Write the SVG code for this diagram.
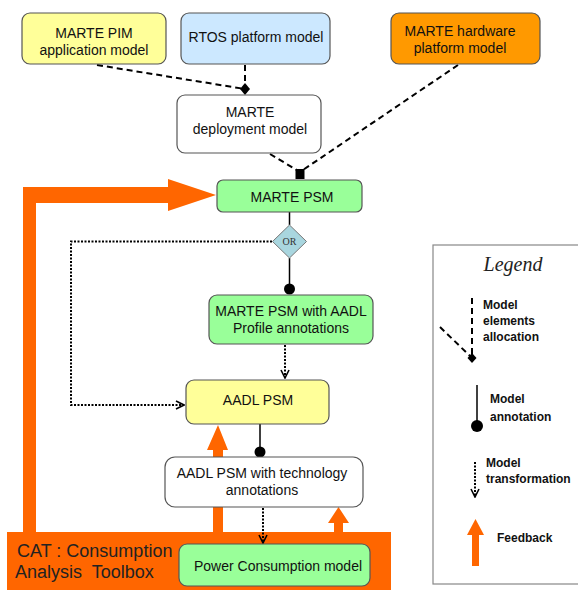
<svg xmlns="http://www.w3.org/2000/svg" width="578" height="590" viewBox="0 0 578 590">
<defs>
<style>
.box{stroke:#555;stroke-width:1.2}
.t{font-family:"Liberation Sans",Arial,sans-serif;font-size:14px;fill:#111;text-anchor:middle}
.lg{font-family:"Liberation Sans",Arial,sans-serif;font-size:12px;font-weight:bold;fill:#111}
.dash{stroke:#000;stroke-width:2;stroke-dasharray:6,4;fill:none}
.dot{stroke:#000;stroke-width:2;stroke-dasharray:2,1.5;fill:none}
.solid{stroke:#000;stroke-width:1.5;fill:none}
.fb{fill:#ff6600}
</style>
<marker id="chev" viewBox="0 0 10 10" refX="9" refY="5" markerWidth="10" markerHeight="10" markerUnits="userSpaceOnUse" orient="auto">
<path d="M1,1 L9,5 L1,9" fill="none" stroke="#000" stroke-width="1.6"/>
</marker>
</defs>
<rect width="578" height="590" fill="#fff"/>

<!-- feedback (orange) shapes -->
<g id="cat">
<rect class="fb" x="7" y="532" width="384" height="58"/>
<text x="17" y="557" style="font-family:'Liberation Sans',Arial,sans-serif;font-size:18px;fill:#222">CAT : Consumption</text>
<text x="15" y="578" style="font-family:'Liberation Sans',Arial,sans-serif;font-size:18px;fill:#222" xml:space="preserve">Analysis  Toolbox</text>
</g>

<g id="connectors">
<!-- big feedback arrow to MARTE PSM -->
<path class="fb" d="M23,533 L23,187 L168,187 L168,179 L216,195 L168,211 L168,203 L36,203 L36,533 Z"/>
<!-- feedback to AADL PSM -->
<path class="fb" d="M213,533 L213,450 L207,450 L218,425 L228,450 L223,450 L223,533 Z"/>
<!-- feedback to AADL tech -->
<path class="fb" d="M334,533 L334,523 L328,523 L338.5,507 L349,523 L343,523 L343,533 Z"/>

<!-- allocation dashed lines -->
<path class="dash" d="M97,65 L245,89"/>
<path class="dash" d="M245,65 L245,89"/>
<path d="M245,83 L250,89 L245,95 L240,89 Z" fill="#000"/>
<path class="dash" d="M270,154 L300,172"/>
<path class="dash" d="M458,65 L300,172"/>
<rect x="295.5" y="169" width="9" height="10" fill="#000"/>

<!-- annotations -->
<path class="solid" d="M289.5,212 L289.5,225"/>
<path class="solid" d="M289.5,258 L289.5,288"/>
<circle cx="289.5" cy="289" r="5.5" fill="#000"/>
<path class="solid" d="M260,424 L260,452"/>
<circle cx="260" cy="452" r="5.5" fill="#000"/>

<!-- transformations -->
<path class="dot" d="M272,241.5 L71,241.5 L71,405 L184,405" marker-end="url(#chev)"/>
<path class="dot" d="M285,345 L285,378" marker-end="url(#chev)"/>
<path class="dot" d="M263,508 L263,543" marker-end="url(#chev)"/>
</g>

<g id="pim">
<rect class="box" x="22" y="13" width="144" height="51" rx="8" fill="#ffff99"/>
<text class="t" x="94" y="38">MARTE PIM</text>
<text class="t" x="94" y="55">application model</text>
</g>
<g id="rtos">
<rect class="box" x="181" y="13" width="149" height="51" rx="8" fill="#cce8ff"/>
<text class="t" x="256" y="42">RTOS platform model</text>
</g>
<g id="hardware">
<rect class="box" x="391" y="13" width="149" height="51" rx="8" fill="#ff9900"/>
<text class="t" x="460" y="36">MARTE hardware</text>
<text class="t" x="460" y="53">platform model</text>
</g>
<g id="deployment">
<rect class="box" x="177" y="95" width="144" height="58" rx="8" fill="#fff"/>
<text class="t" x="250" y="117">MARTE</text>
<text class="t" x="250" y="134">deployment model</text>
</g>
<g id="psm">
<rect class="box" x="217" y="180" width="145" height="32" rx="6" fill="#99ff99"/>
<text class="t" x="292" y="202">MARTE PSM</text>
</g>
<g id="or">
<path d="M289.5,225 L306.5,241.5 L289.5,258 L272.5,241.5 Z" fill="#a9d6df" stroke="#777" stroke-width="1"/>
<text x="289.5" y="245" style="font-family:'Liberation Serif','Times New Roman',serif;font-size:10px;fill:#333;text-anchor:middle">OR</text>
</g>
<g id="psm-aadl">
<rect class="box" x="209" y="295" width="164" height="49" rx="8" fill="#99ff99"/>
<text class="t" x="291" y="316">MARTE PSM with AADL</text>
<text class="t" x="291" y="333">Profile annotations</text>
</g>
<g id="aadl-psm">
<rect class="box" x="186" y="380" width="143" height="44" rx="8" fill="#ffff99"/>
<text class="t" x="258" y="405">AADL PSM</text>
</g>
<g id="aadl-tech">
<rect class="box" x="165" y="457" width="198" height="50" rx="10" fill="#fff"/>
<text class="t" x="262" y="478">AADL PSM with technology</text>
<text class="t" x="262" y="495">annotations</text>
</g>
<g id="power">
<rect class="box" x="179" y="544" width="191" height="42" rx="8" fill="#99ff99"/>
<text class="t" x="278" y="571">Power Consumption model</text>
</g>

<g id="legend">
<rect x="433" y="245" width="150" height="339" fill="#fff" stroke="#888" stroke-width="1.2"/>
<text x="513" y="271" style="font-family:'Liberation Serif','Times New Roman',serif;font-size:20px;font-style:italic;fill:#222;text-anchor:middle">Legend</text>
<path class="dash" d="M472,298 L472,356"/>
<path class="dash" d="M440,327 L470,356"/>
<path d="M472,353 L476.5,358 L472,363 L467.5,358 Z" fill="#000"/>
<text class="lg" x="483" y="309">Model</text>
<text class="lg" x="483" y="325">elements</text>
<text class="lg" x="483" y="341">allocation</text>
<path class="solid" d="M477,385 L477,424"/>
<circle cx="477" cy="426" r="6" fill="#000"/>
<text class="lg" x="490" y="403">Model</text>
<text class="lg" x="490" y="421">annotation</text>
<path class="dot" d="M475,462 L475,497" marker-end="url(#chev)"/>
<text class="lg" x="486" y="467">Model</text>
<text class="lg" x="486" y="483">transformation</text>
<path class="fb" d="M472,566 L472,535 L467,535 L475.5,519 L484,535 L479,535 L479,566 Z"/>
<text class="lg" x="497" y="542">Feedback</text>
</g>
</svg>
